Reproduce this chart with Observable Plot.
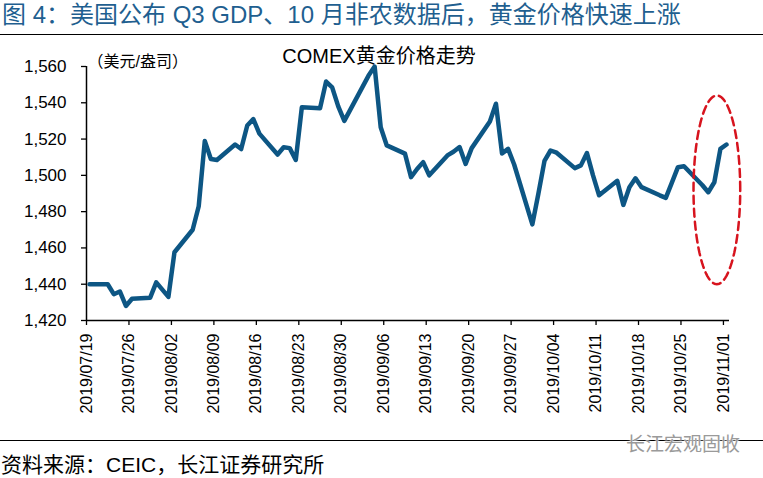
<!DOCTYPE html>
<html>
<head>
<meta charset="utf-8">
<script src="https://cdn.jsdelivr.net/npm/d3@7"></script>
<script src="https://cdn.jsdelivr.net/npm/@observablehq/plot@0.6"></script>
<style>
  html, body { margin: 0; padding: 0; background: #fff; }
  body { width: 763px; height: 478px; position: relative; overflow: hidden;
         font-family: "Liberation Sans", "Noto Sans CJK SC", sans-serif; }
  #title { position: absolute; left: 2px; top: 0px; font-size: 24px; line-height: 30px;
           color: #1f5f90; white-space: nowrap; }
  #topline { position: absolute; left: 0; top: 34px; width: 763px; height: 0; border-top: 1.5px solid #000; }
  #chart { position: absolute; left: 0; top: 36px; }
  #bottomline { position: absolute; left: 0; top: 440px; width: 763px; height: 0; border-top: 1px solid #000; }
  #watermark { position: absolute; left: 626px; top: 433px; font-size: 19px; line-height: 24px; color: #9a9a9a;
               text-shadow: 0 0 2px #fff, 0 0 2px #fff; }
  #source { position: absolute; left: 1px; top: 452px; font-size: 21px; line-height: 26px; color: #000; white-space: nowrap; }
</style>
</head>
<body>
<div id="title">图 4：美国公布 Q3 GDP、10 月非农数据后，黄金价格快速上涨</div>
<div id="topline"></div>
<div id="chart"></div>
<div id="bottomline"></div>
<div id="watermark">长江宏观固收</div>
<div id="source">资料来源：CEIC，长江证券研究所</div>
<script>
// ---- data ----
const dates = [
  "2019-07-19","2019-07-22","2019-07-23","2019-07-24","2019-07-25","2019-07-26",
  "2019-07-29","2019-07-30","2019-07-31","2019-08-01","2019-08-02",
  "2019-08-05","2019-08-06","2019-08-07","2019-08-08","2019-08-09",
  "2019-08-12","2019-08-13","2019-08-14","2019-08-15","2019-08-16",
  "2019-08-19","2019-08-20","2019-08-21","2019-08-22","2019-08-23",
  "2019-08-26","2019-08-27","2019-08-28","2019-08-29","2019-08-30",
  "2019-09-03","2019-09-04","2019-09-05","2019-09-06",
  "2019-09-09","2019-09-10","2019-09-11","2019-09-12","2019-09-13",
  "2019-09-16","2019-09-17","2019-09-18","2019-09-19","2019-09-20",
  "2019-09-23","2019-09-24","2019-09-25","2019-09-26","2019-09-27",
  "2019-09-30","2019-10-01","2019-10-02","2019-10-03","2019-10-04",
  "2019-10-07","2019-10-08","2019-10-09","2019-10-10","2019-10-11",
  "2019-10-14","2019-10-15","2019-10-16","2019-10-17","2019-10-18",
  "2019-10-21","2019-10-22","2019-10-23","2019-10-24","2019-10-25",
  "2019-10-28","2019-10-29","2019-10-30","2019-10-31","2019-11-01"
];
const prices = [
  1440, 1440, 1434.5, 1436, 1428, 1432,
  1432.6, 1441, 1437, 1433, 1457.6,
  1470, 1483, 1519, 1509, 1508.5,
  1517, 1514.5, 1527.5, 1531, 1523,
  1511.5, 1515.5, 1515, 1508.5, 1537.5,
  1537, 1551.7, 1548.5, 1538, 1530,
  1555, 1560, 1526.5, 1516.5,
  1512, 1499, 1503.5, 1507.3, 1500,
  1511, 1513, 1515.6, 1506.3, 1515,
  1529.7, 1539.5, 1512, 1514.6, 1506,
  1473, 1490, 1508, 1513.7, 1512.5,
  1504, 1505.5, 1512.3, 1500, 1489,
  1497, 1483.7, 1493.5, 1498.4, 1493.5,
  1489, 1487.6, 1496, 1504.5, 1505,
  1494.7, 1490.7, 1496.2, 1514.6, 1517
];
const xTickLabels = [
  "2019/07/19","2019/07/26","2019/08/02","2019/08/09","2019/08/16","2019/08/23",
  "2019/08/30","2019/09/06","2019/09/13","2019/09/20","2019/09/27","2019/10/04",
  "2019/10/11","2019/10/18","2019/10/25","2019/11/01"
];
const yTicks = [1420, 1440, 1460, 1480, 1500, 1520, 1540, 1560];
const xStart = "2019-07-19", xEnd = "2019-11-02";
const unitLabel = "（美元/盎司）";
const chartTitle = "COMEX黄金价格走势";
// highlight ellipse (data space): centre date/value and half extents
const ellipseCenterDate = "2019-10-30T22:00:00Z";
const ellipseHalfDays = 3.85;
const ellipseCenterValue = 1492;
const ellipseHalfValue = 52;

// ---- build ----
const DAY = 864e5;
const parse = s => new Date(s + "T00:00:00Z");
const series = dates.map((d, i) => ({date: new Date(parse(d).getTime() + DAY / 2), price: prices[i]}));
const xTicks = xTickLabels.map(s => parse(s.replace(/\//g, "-")));
const ec = new Date(ellipseCenterDate).getTime();
const ellipse = d3.range(0, 121).map(k => {
  const t = (k / 120) * 2 * Math.PI;
  return {date: new Date(ec + Math.cos(t) * ellipseHalfDays * DAY), price: ellipseCenterValue + Math.sin(t) * ellipseHalfValue};
});

const chart = Plot.plot({
  width: 763,
  height: 404,
  marginLeft: 86,
  marginRight: 34,
  marginTop: 30,
  marginBottom: 120,
  style: {fontFamily: "'Liberation Sans', 'Noto Sans CJK SC', sans-serif", color: "#000", background: "transparent"},
  x: {type: "utc", domain: [parse(xStart), parse(xEnd)], label: null},
  y: {domain: [1420, 1560], label: null},
  marks: [
    Plot.axisY({ticks: yTicks, tickFormat: d3.format(","), tickSize: 5, tickPadding: 15, fontSize: 17, stroke: "#000", strokeWidth: 1.3, label: null}),
    Plot.axisX({ticks: xTicks, tickFormat: d3.utcFormat("%Y/%m/%d"), tickRotate: -90, tickSize: 5, tickPadding: 8, fontSize: 16, stroke: "#000", strokeWidth: 1.3, label: null}),
    Plot.ruleY([1420], {stroke: "#000", strokeWidth: 1.5}),
    Plot.ruleX([parse(xStart)], {stroke: "#000", strokeWidth: 1.5}),
    Plot.line(series, {x: "date", y: "price", stroke: "#0d5684", strokeWidth: 4.5, strokeLinejoin: "round", strokeLinecap: "round"}),
    Plot.line(ellipse, {x: "date", y: "price", stroke: "#d7141e", strokeWidth: 2.5, strokeDasharray: "8,5", curve: "linear-closed"}),
    Plot.text([unitLabel], {frameAnchor: "top-left", text: d => d, textAnchor: "start", lineAnchor: "middle", dx: 1, dy: -5, fontSize: 16, fill: "#000"}),
    Plot.text([chartTitle], {frameAnchor: "top", text: d => d, textAnchor: "middle", lineAnchor: "middle", dx: -29, dy: -10, fontSize: 20, fill: "#000"})
  ]
});
document.getElementById("chart").appendChild(chart);
</script>
</body>
</html>
